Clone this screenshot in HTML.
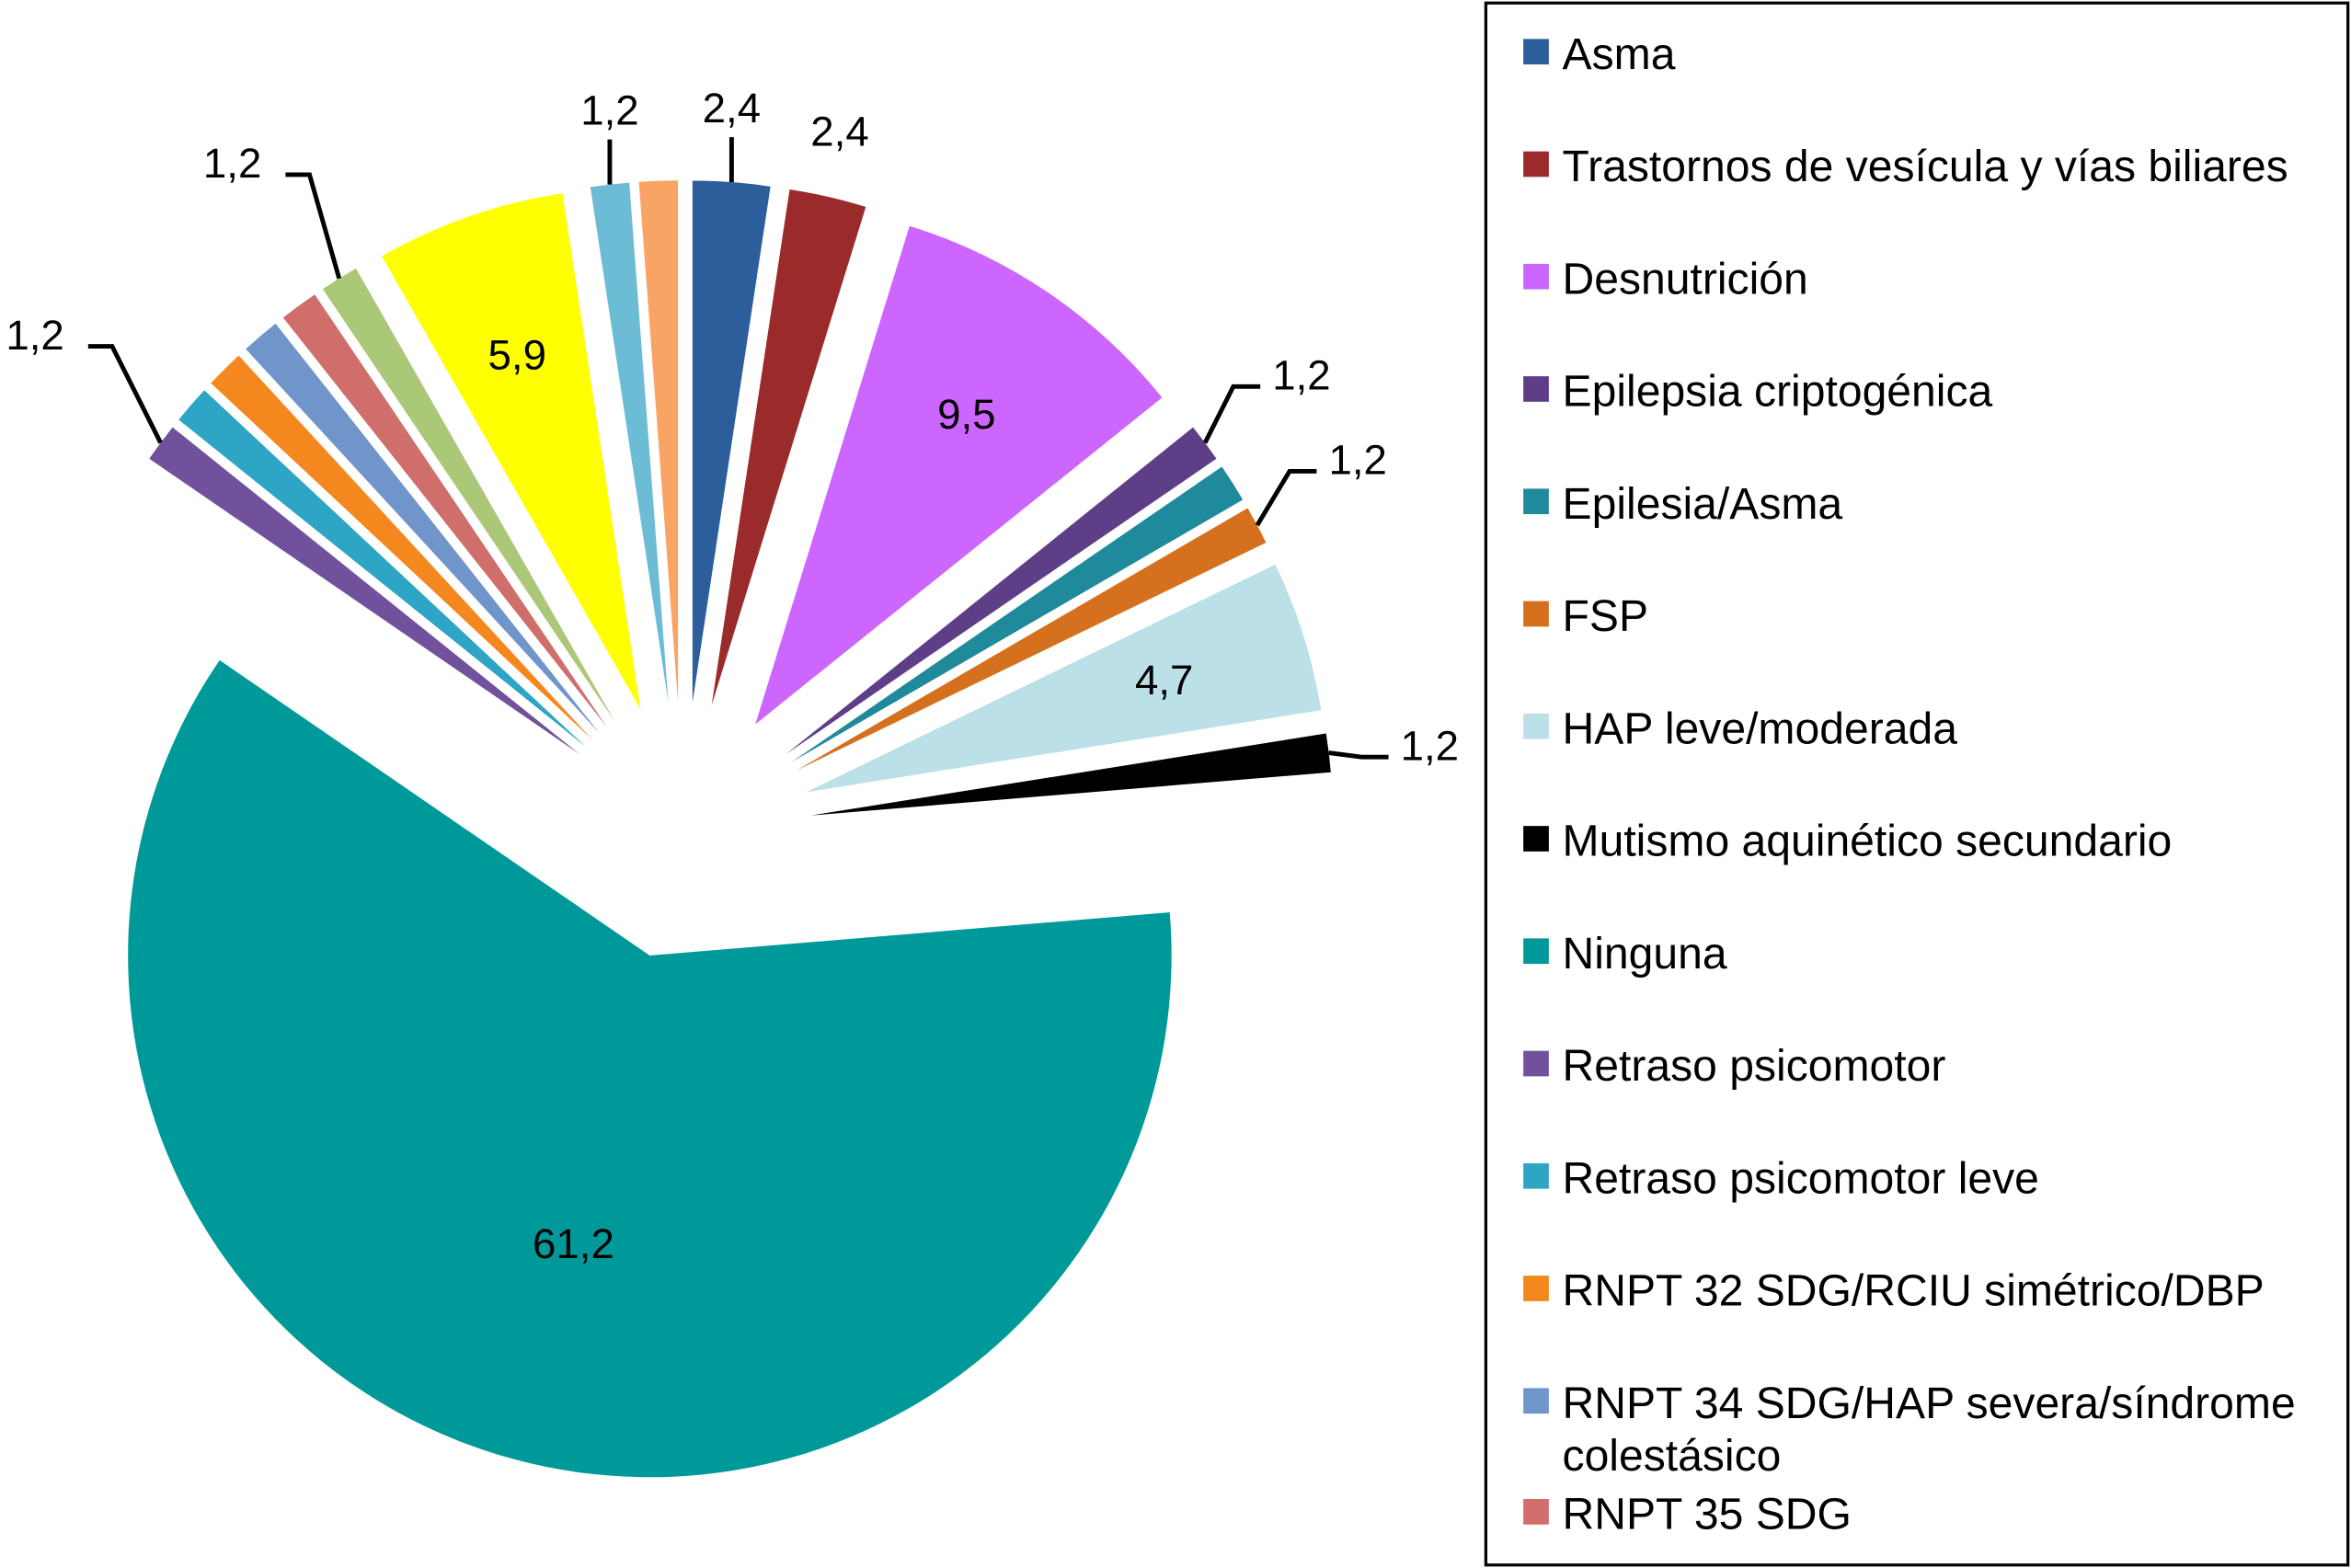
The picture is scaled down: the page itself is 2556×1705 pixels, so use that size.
<!DOCTYPE html>
<html><head><meta charset="utf-8"><style>
html,body{margin:0;padding:0;background:#fff;}
svg{display:block;}
text{font-family:"Liberation Sans",Arial,sans-serif;}
</style></head><body>
<svg id="chart" width="2556" height="1705" viewBox="0 0 1568 1046" xmlns="http://www.w3.org/2000/svg">
<g id="pie"></g>
<g id="labels"></g>
<g id="legend">
<rect x="991" y="2" width="575" height="1042" fill="#fff" stroke="#000" stroke-width="2"/>
</g>
</svg>
<script>
const categories=["Asma","Trastornos de vesícula y vías biliares","Desnutrición","Epilepsia criptogénica","Epilesia/Asma","FSP","HAP leve/moderada","Mutismo aquinético secundario","Ninguna","Retraso psicomotor","Retraso psicomotor leve","RNPT 32 SDG/RCIU simétrico/DBP","RNPT 34 SDG/HAP severa/síndrome colestásico","RNPT 35 SDG","Otra A","Otra B","Otra C","Otra D"];
const values=[2.4,2.4,9.5,1.2,1.2,1.2,4.7,1.2,61.2,1.2,1.2,1.2,1.2,1.2,1.2,5.9,1.2,1.2];
const valueLabels=["2,4","2,4","9,5","1,2","","1,2","4,7","1,2","61,2","1,2","","","","","1,2","5,9","1,2",""];
const labelModes=["up","out","in","out","none","out","in","out","in","out","none","none","none","none","out","in","up","none"];
const colors=["#2C5E9C","#9B2B2B","#CC66FF","#5E3F87","#1F8A9B","#D5711E","#BCE0E8","#000000","#009999","#72519C","#2EA5C5","#F5871F","#7095CB","#D06E6C","#ABC879","#FFFF00","#6CBCD6","#F7A464"];
const legendCount=14;

const NS="http://www.w3.org/2000/svg";
const C={x:455.4,y:554.3},R=348,D=86;
const total=values.reduce((a,b)=>a+b,0);
function mk(t,a,p){const e=document.createElementNS(NS,t);for(const k in a)e.setAttribute(k,a[k]);p.appendChild(e);return e;}
function pt(o,ang,r){return {x:o.x+r*Math.cos(ang),y:o.y+r*Math.sin(ang)};}
const pie=document.getElementById('pie'),lab=document.getElementById('labels');
let cum=0;
values.forEach((v,i)=>{
  const a0=-Math.PI/2+cum/total*2*Math.PI;cum+=v;
  const a1=-Math.PI/2+cum/total*2*Math.PI;const am=(a0+a1)/2;
  const apex=pt(C,am,D);const p0=pt(apex,a0,R),p1=pt(apex,a1,R);
  const large=(a1-a0)>Math.PI?1:0;
  const s=mk('path',{d:`M${apex.x},${apex.y}L${p0.x},${p0.y}A${R},${R} 0 ${large} 1 ${p1.x},${p1.y}Z`,fill:colors[i]},pie);
  
  
  const m=labelModes[i];
  if(m==='in'){
    const lp=pt(apex,am,v>50?R*0.57:R*0.72);
    const t=mk('text',{x:lp.x,y:lp.y+10,'text-anchor':'middle','font-size':28},lab);t.textContent=valueLabels[i];
    
    
  } else if(m==='up'){
    const e=pt(apex,am,R);
    const l=mk('path',{d:`M${e.x},${e.y}V${e.y-30}`,stroke:'#000','stroke-width':3,fill:'none'},lab);
    
    
    const t=mk('text',{x:e.x,y:e.y-40,'text-anchor':'middle','font-size':28},lab);t.textContent=valueLabels[i];
    
    
  } else if(m==='out'){
    const e=pt(apex,am,R);const right=Math.cos(am)>=0;
    if(v<2){
      const flat=Math.abs(Math.sin(am))<0.2;
      const target=am>Math.PI/2?1.5*Math.PI:-Math.PI/2;
      const la=flat?am+0.25:am+(target-am)*0.5;
      const el=pt(e,la,flat?22:(right?42:72));const hx=el.x+(right?18:-16);
      const l=mk('path',{d:`M${e.x},${e.y}L${el.x},${el.y}H${hx}`,stroke:'#000','stroke-width':3,fill:'none'},lab);
      
      
      const t=mk('text',{x:hx+(right?8:-16),y:el.y+2,'text-anchor':right?'start':'end','font-size':28},lab);t.textContent=valueLabels[i];
      
      
    } else {
      const lp=pt(apex,am,R+35);
      const t=mk('text',{x:lp.x,y:lp.y,'text-anchor':'middle','font-size':28},lab);t.textContent=valueLabels[i];
      
      
    }
  }
});
const lg=document.getElementById('legend');
let y=36;
for(let i=0;i<legendCount;i++){
  const g=mk('g',{},lg);
  
  
  mk('rect',{x:1016,y:y-10,width:17,height:17,fill:colors[i]},g);
  const txt=categories[i];
  if(i===12){
    const t=mk('text',{x:1042,y:y+10,'font-size':29.5},g);t.textContent="RNPT 34 SDG/HAP severa/síndrome";
    const t2=mk('text',{x:1042,y:y+45,'font-size':29.5},g);t2.textContent="colestásico";
    y+=74;
  } else {
    const t=mk('text',{x:1042,y:y+10,'font-size':29.5},g);t.textContent=txt;
    y+=75;
  }
}
</script>
</body></html>
